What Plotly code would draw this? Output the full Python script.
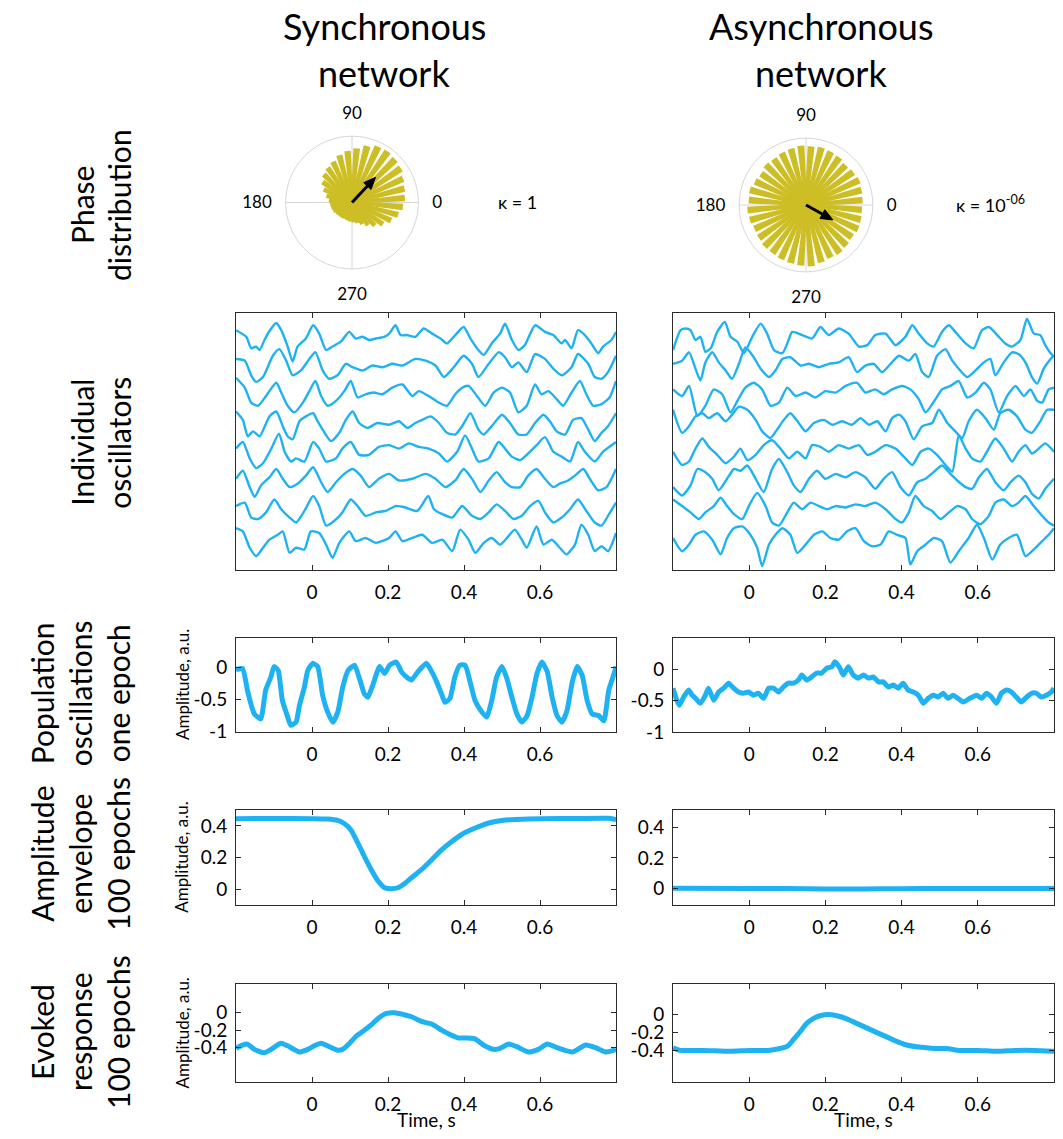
import math
import plotly.graph_objects as go

# ---------------------------------------------------------------- data
# phase histograms: 36 bins of 10 degrees, bar length relative to outer ring
phase_bins = list(range(5, 360, 10))
sync_phase_r = [0.78, 0.80, 0.83, 0.88, 0.90, 0.92, 0.91, 0.86, 0.80, 0.76,
                0.72, 0.66, 0.62, 0.58, 0.52, 0.45, 0.38, 0.33, 0.31, 0.30,
                0.29, 0.27, 0.26, 0.26, 0.25, 0.26, 0.27, 0.28, 0.30, 0.34,
                0.40, 0.47, 0.55, 0.63, 0.70, 0.75]
async_phase_r = [0.83, 0.84, 0.86, 0.84, 0.82, 0.85, 0.86, 0.87, 0.86, 0.87,
                 0.85, 0.84, 0.82, 0.83, 0.80, 0.82, 0.85, 0.84, 0.86, 0.85,
                 0.83, 0.84, 0.86, 0.86, 0.87, 0.88, 0.89, 0.90, 0.87, 0.85,
                 0.86, 0.84, 0.82, 0.84, 0.83, 0.82]
# mean phase vector: (angle in degrees, length)
sync_mean_vec = (47, 0.52)
async_mean_vec = (-29, 0.46)
kappa_text = ["κ = 1", "κ = 10<sup>-06</sup>"]

time_ticks = [0, 0.2, 0.4, 0.6]
time_labels = ["0", "0.2", "0.4", "0.6"]

# individual oscillators: (time s, amplitude) per oscillator, one oscillator per row
sync_osc = [
    [(-0.2, 0.23), (-0.173, 0), (-0.16, -0.40), (-0.147, -0.34), (-0.138, -0.46), (-0.125, -0.11), (-0.112, 0.20),
     (-0.094, 0.48), (-0.081, 0.23), (-0.064, -0.34), (-0.051, -0.86), (-0.038, -0.34), (-0.016, -0.06), (0.003, 0.40),
     (0.019, 0.11), (0.037, -0.46), (0.054, -0.34), (0.076, -0.17), (0.098, 0.17), (0.115, -0.06), (0.133, 0),
     (0.15, -0.11), (0.168, -0.06), (0.19, 0), (0.203, 0.11), (0.22, 0.40), (0.233, 0.06), (0.251, 0.06), (0.272, 0),
     (0.294, 0.29), (0.316, 0.11), (0.338, -0.06), (0.355, -0.23), (0.377, 0.06), (0.399, 0.34), (0.417, -0.06),
     (0.438, -0.46), (0.452, -0.63), (0.473, -0.23), (0.495, 0.11), (0.508, 0.46), (0.526, -0.11), (0.543, -0.46),
     (0.56, -0.29), (0.587, 0.40), (0.613, 0.17), (0.635, 0.06), (0.657, -0.23), (0.666, -0.11), (0.683, -0.40),
     (0.70, 0.23), (0.718, 0.06), (0.735, -0.23), (0.753, -0.57), (0.766, -0.34), (0.788, -0.11), (0.8, 0.17)],
    [(-0.2, 0.23), (-0.177, 0.17), (-0.16, -0.34), (-0.147, -0.57), (-0.129, -0.40), (-0.103, 0.34), (-0.086, 0.57),
     (-0.068, 0.17), (-0.051, -0.34), (-0.029, -0.17), (-0.007, 0.23), (0.009, 0.46), (0.028, -0.17), (0.045, -0.46),
     (0.067, -0.34), (0.089, 0.06), (0.107, -0.06), (0.133, -0.17), (0.159, 0), (0.185, -0.06), (0.211, 0.06),
     (0.238, 0), (0.272, 0.23), (0.299, 0.17), (0.325, 0), (0.347, -0.40), (0.373, -0.06), (0.399, 0.34),
     (0.421, 0.06), (0.438, -0.40), (0.465, 0.06), (0.491, 0.46), (0.508, 0.29), (0.526, -0.06), (0.543, 0.11),
     (0.565, -0.23), (0.587, 0.40), (0.613, 0.23), (0.635, -0.11), (0.657, -0.34), (0.683, -0.06), (0.70, 0.40),
     (0.727, 0.06), (0.744, -0.40), (0.762, -0.46), (0.779, -0.23), (0.8, 0.34)],
    [(-0.2, 0.57), (-0.177, 0.23), (-0.16, -0.29), (-0.142, -0.40), (-0.121, -0.06), (-0.094, 0.40), (-0.081, 0.06),
     (-0.064, -0.40), (-0.046, -0.63), (-0.024, -0.29), (-0.007, 0.11), (0.009, 0.46), (0.024, -0.06), (0.041, -0.40),
     (0.063, -0.23), (0.085, 0.11), (0.102, 0.46), (0.12, -0.11), (0.141, 0), (0.163, 0.06), (0.185, 0),
     (0.211, 0.23), (0.238, 0.34), (0.264, -0.06), (0.281, 0.11), (0.307, -0.06), (0.334, -0.29), (0.355, -0.40),
     (0.377, 0), (0.395, 0.23), (0.412, 0.29), (0.434, -0.06), (0.456, -0.40), (0.478, 0.06), (0.50, 0.23),
     (0.521, 0.06), (0.543, -0.63), (0.565, -0.40), (0.587, 0.34), (0.604, 0), (0.622, 0.11), (0.644, -0.17),
     (0.661, -0.40), (0.683, 0.06), (0.705, 0.46), (0.722, 0), (0.74, -0.40), (0.762, -0.34), (0.783, -0.11),
     (0.8, 0.46)],
    [(-0.2, 0.40), (-0.182, 0.11), (-0.169, -0.46), (-0.155, -0.29), (-0.138, -0.46), (-0.112, 0.23), (-0.094, 0.40),
     (-0.077, -0.11), (-0.064, -0.46), (-0.051, -0.57), (-0.033, 0.06), (-0.016, 0.23), (0.003, 0.34), (0.015, 0.06),
     (0.028, -0.23), (0.05, -0.63), (0.072, -0.34), (0.089, 0.11), (0.107, 0.40), (0.124, 0), (0.146, -0.17),
     (0.172, 0), (0.203, -0.06), (0.229, 0.06), (0.251, -0.17), (0.272, 0), (0.29, 0.11), (0.312, 0.23), (0.334, 0),
     (0.355, -0.34), (0.377, -0.40), (0.395, -0.11), (0.417, 0.34), (0.438, -0.23), (0.452, -0.40), (0.473, -0.11),
     (0.50, 0.29), (0.521, 0), (0.543, -0.40), (0.565, -0.40), (0.587, 0), (0.609, 0.29), (0.626, 0.06),
     (0.644, -0.29), (0.666, -0.40), (0.687, 0.11), (0.709, 0.17), (0.727, -0.23), (0.744, -0.63), (0.762, -0.34),
     (0.779, -0.11), (0.8, 0.34)],
    [(-0.2, 0.11), (-0.182, 0.34), (-0.164, -0.23), (-0.147, -0.57), (-0.129, -0.40), (-0.107, 0.11), (-0.087, 0.63),
     (-0.072, 0), (-0.055, -0.34), (-0.042, -0.23), (-0.02, -0.34), (0.003, 0.34), (0.019, 0.11), (0.037, -0.34),
     (0.063, -0.23), (0.08, 0.11), (0.102, 0.34), (0.124, -0.11), (0.15, -0.11), (0.176, 0.17), (0.203, 0.23),
     (0.229, 0.11), (0.255, 0.29), (0.281, 0.17), (0.307, 0.11), (0.334, -0.06), (0.355, -0.34), (0.382, 0),
     (0.403, 0.57), (0.421, 0.11), (0.438, -0.34), (0.465, -0.23), (0.491, 0.34), (0.508, 0.11), (0.526, -0.17),
     (0.548, -0.29), (0.569, -0.06), (0.591, 0.23), (0.613, 0.51), (0.635, 0), (0.657, -0.17), (0.679, -0.34),
     (0.70, 0.34), (0.718, 0), (0.744, -0.34), (0.766, 0), (0.8, 0.34)],
    [(-0.2, 0.06), (-0.182, 0.34), (-0.164, -0.23), (-0.151, -0.57), (-0.134, -0.17), (-0.112, 0.11), (-0.094, 0.40),
     (-0.077, 0.06), (-0.059, -0.23), (-0.038, -0.11), (-0.016, 0.17), (0.003, 0.46), (0.024, -0.06), (0.041, -0.40),
     (0.063, -0.06), (0.085, 0.23), (0.107, 0.40), (0.128, 0.17), (0.15, -0.23), (0.176, 0.06), (0.203, 0.23),
     (0.229, 0), (0.264, 0.06), (0.299, 0.23), (0.325, 0.06), (0.351, -0.23), (0.377, 0), (0.399, 0.40),
     (0.421, 0.06), (0.443, -0.40), (0.465, 0), (0.486, 0.29), (0.508, -0.06), (0.526, -0.23), (0.548, -0.23),
     (0.569, 0.17), (0.591, 0.40), (0.613, 0.06), (0.635, -0.23), (0.652, -0.11), (0.674, 0), (0.692, 0.17),
     (0.714, 0.40), (0.731, 0.06), (0.753, -0.34), (0.775, -0.23), (0.8, 0.40)],
    [(-0.2, 0.11), (-0.177, 0.23), (-0.16, -0.29), (-0.142, -0.34), (-0.121, -0.11), (-0.099, 0.34), (-0.081, 0),
     (-0.059, -0.29), (-0.042, -0.46), (-0.02, -0.06), (0.003, 0.46), (0.019, 0.11), (0.037, -0.57), (0.059, -0.40),
     (0.08, -0.11), (0.102, 0.34), (0.12, 0.11), (0.141, -0.23), (0.168, -0.11), (0.194, -0.06), (0.22, 0.11),
     (0.246, 0.06), (0.277, -0.06), (0.306, 0.46), (0.321, 0), (0.343, -0.17), (0.369, -0.29), (0.395, 0.11),
     (0.421, -0.23), (0.443, -0.34), (0.465, -0.11), (0.486, 0.17), (0.508, -0.06), (0.53, -0.34), (0.552, -0.23),
     (0.574, 0.11), (0.596, 0.29), (0.613, -0.11), (0.635, -0.46), (0.657, -0.29), (0.679, 0), (0.70, 0.34),
     (0.722, -0.06), (0.744, -0.46), (0.762, -0.57), (0.779, -0.23), (0.8, 0.23)],
    [(-0.2, 0.34), (-0.182, 0.23), (-0.164, -0.34), (-0.147, -0.63), (-0.129, -0.34), (-0.112, -0.06), (-0.09, 0.11),
     (-0.077, 0.23), (-0.059, -0.52), (-0.042, -0.34), (-0.02, -0.40), (-0.003, 0.23), (0.019, 0.17), (0.037, -0.23),
     (0.054, -0.69), (0.072, -0.17), (0.098, 0.23), (0.115, -0.11), (0.141, 0), (0.168, -0.17), (0.203, 0),
     (0.22, 0.23), (0.238, -0.11), (0.264, 0), (0.29, 0.11), (0.316, -0.17), (0.343, -0.06), (0.369, -0.46),
     (0.39, 0.29), (0.412, -0.06), (0.43, -0.52), (0.452, -0.17), (0.473, 0), (0.495, -0.23), (0.513, 0),
     (0.534, 0.29), (0.552, -0.06), (0.565, -0.34), (0.591, 0.40), (0.609, -0.23), (0.631, -0.06), (0.652, -0.34),
     (0.67, -0.57), (0.692, -0.23), (0.709, 0.46), (0.727, 0.11), (0.744, -0.46), (0.762, -0.29), (0.779, -0.46),
     (0.8, 0.17)],
]

async_osc = [
    [(-0.2, -0.46), (-0.18, 0.23), (-0.167, 0.29), (-0.154, 0.23), (-0.141, -0.11), (-0.128, 0), (-0.115, -0.52),
     (-0.101, -0.40), (-0.084, 0.17), (-0.064, 0.52), (-0.049, 0), (-0.031, -0.17), (-0.014, -0.57), (0.008, 0),
     (0.03, 0.46), (0.047, 0.11), (0.065, -0.46), (0.087, -0.57), (0.10, -0.23), (0.113, 0.17), (0.139, 0.06),
     (0.165, -0.06), (0.187, 0.34), (0.209, 0.06), (0.235, 0.29), (0.261, 0.11), (0.288, -0.34), (0.31, -0.29),
     (0.331, 0.06), (0.358, 0.11), (0.384, -0.29), (0.41, 0), (0.428, 0.40), (0.445, 0.11), (0.467, -0.23),
     (0.484, -0.34), (0.506, 0.17), (0.524, 0.40), (0.541, 0.17), (0.568, -0.23), (0.589, -0.40), (0.611, 0.23),
     (0.629, 0.34), (0.651, 0.06), (0.672, -0.23), (0.69, -0.34), (0.712, -0.11), (0.729, 0.63), (0.747, 0.11),
     (0.764, 0.06), (0.777, -0.29), (0.791, -0.57), (0.8, -0.69)],
    [(-0.2, 0.06), (-0.176, 0.17), (-0.158, 0.46), (-0.141, -0.11), (-0.128, -0.52), (-0.115, 0.11), (-0.097, 0.46),
     (-0.08, 0.11), (-0.062, -0.17), (-0.045, -0.46), (-0.027, 0.06), (-0.01, 0.63), (0.012, 0.29), (0.03, -0.11),
     (0.052, -0.40), (0.069, -0.17), (0.087, 0.23), (0.108, 0.29), (0.135, 0), (0.157, 0.06), (0.183, -0.06),
     (0.209, 0.06), (0.235, 0.11), (0.261, 0.29), (0.283, -0.23), (0.305, 0), (0.327, 0.06), (0.349, -0.23),
     (0.371, 0.06), (0.393, 0.34), (0.419, 0.17), (0.436, 0.40), (0.454, -0.23), (0.471, -0.40), (0.493, 0.34),
     (0.515, 0.57), (0.533, 0.17), (0.55, -0.11), (0.572, -0.40), (0.594, -0.17), (0.616, 0.11), (0.633, 0.23),
     (0.646, -0.34), (0.668, 0.11), (0.69, 0.46), (0.707, 0.40), (0.725, 0.11), (0.742, -0.40), (0.756, -0.63),
     (0.773, -0.11), (0.791, 0.23), (0.8, 0.34)],
    [(-0.2, 0.17), (-0.176, -0.06), (-0.158, 0.29), (-0.136, -0.75), (-0.115, -0.40), (-0.093, 0.17), (-0.071, 0),
     (-0.049, -0.63), (-0.031, -0.23), (-0.01, 0.23), (0.012, 0.40), (0.034, 0.17), (0.056, -0.40), (0.078, -0.29),
     (0.10, 0.23), (0.122, -0.06), (0.148, 0.06), (0.174, -0.11), (0.20, 0.11), (0.227, 0.06), (0.253, 0.29),
     (0.283, 0.40), (0.305, 0.06), (0.331, 0.17), (0.353, 0), (0.375, 0.17), (0.401, 0.29), (0.423, 0.17),
     (0.445, -0.17), (0.463, -0.63), (0.489, -0.17), (0.506, 0.17), (0.528, 0.29), (0.55, 0.46), (0.572, -0.11),
     (0.594, 0.06), (0.616, 0.40), (0.633, 0.17), (0.655, -0.63), (0.677, -0.06), (0.699, 0.29), (0.721, -0.06),
     (0.738, 0.17), (0.756, -0.23), (0.769, -0.29), (0.786, 0.17), (0.8, 0.23)],
    [(-0.2, 0.46), (-0.176, -0.34), (-0.158, -0.11), (-0.141, 0.23), (-0.123, 0.34), (-0.106, 0.17), (-0.084, 0.34),
     (-0.062, 0.06), (-0.045, 0.29), (-0.027, 0.57), (-0.005, 0.46), (0.017, 0.11), (0.034, -0.29), (0.056, -0.52),
     (0.073, -0.23), (0.091, 0.11), (0.108, 0.34), (0.13, 0), (0.148, -0.29), (0.17, 0), (0.196, 0.11),
     (0.218, -0.06), (0.244, 0.06), (0.27, -0.06), (0.292, 0.17), (0.314, -0.06), (0.336, 0.06), (0.358, -0.29),
     (0.375, 0.17), (0.393, 0.29), (0.41, 0.06), (0.432, -0.57), (0.454, -0.11), (0.48, 0), (0.498, 0.46),
     (0.52, 0), (0.541, -0.29), (0.559, -0.52), (0.576, 0.06), (0.598, 0.46), (0.62, 0.17), (0.642, -0.23),
     (0.659, 0.34), (0.681, 0.46), (0.703, 0.23), (0.725, -0.23), (0.742, -0.34), (0.764, 0.06), (0.782, 0.46),
     (0.8, 0.46)],
    [(-0.2, 0), (-0.176, -0.46), (-0.158, -0.34), (-0.141, 0.11), (-0.123, 0.46), (-0.106, 0.17), (-0.084, -0.11),
     (-0.062, -0.40), (-0.04, -0.17), (-0.023, 0.11), (-0.005, -0.29), (0.017, -0.11), (0.038, 0.23), (0.06, 0.40),
     (0.082, 0.11), (0.104, -0.23), (0.126, 0), (0.148, -0.23), (0.165, 0.23), (0.187, 0.17), (0.209, 0),
     (0.235, 0.23), (0.261, 0.11), (0.288, 0.23), (0.31, -0.11), (0.331, 0), (0.358, 0.23), (0.384, 0.11),
     (0.406, -0.17), (0.428, -0.46), (0.45, 0), (0.471, 0.11), (0.493, -0.11), (0.515, -0.46), (0.533, -0.69),
     (0.55, 0.57), (0.568, 0.11), (0.585, -0.23), (0.607, -0.34), (0.624, 0), (0.646, 0.46), (0.668, 0.11),
     (0.69, -0.34), (0.707, 0), (0.725, 0.23), (0.742, -0.06), (0.76, 0.11), (0.777, 0.29), (0.8, 0)],
    [(-0.2, -0.23), (-0.176, -0.52), (-0.154, -0.17), (-0.136, 0.40), (-0.115, 0.29), (-0.097, 0.06), (-0.08, -0.34),
     (-0.058, 0.06), (-0.04, 0.40), (-0.023, 0.34), (-0.005, 0.52), (0.017, 0.06), (0.038, -0.40), (0.06, 0.40),
     (0.078, 0.75), (0.10, 0.29), (0.117, -0.17), (0.135, -0.40), (0.157, 0.06), (0.178, 0.34), (0.20, 0.06),
     (0.227, 0.23), (0.253, 0.11), (0.279, 0.29), (0.305, 0.11), (0.331, -0.29), (0.353, 0.06), (0.375, 0.29),
     (0.397, -0.23), (0.419, -0.52), (0.441, -0.06), (0.463, 0.06), (0.484, 0.29), (0.506, 0.52), (0.528, 0.23),
     (0.546, 0), (0.568, -0.23), (0.585, -0.29), (0.603, 0.11), (0.624, 0.40), (0.646, -0.06), (0.668, -0.34),
     (0.686, -0.06), (0.707, 0.17), (0.725, -0.06), (0.742, -0.46), (0.76, -0.63), (0.777, -0.29), (0.8, 0.06)],
    [(-0.2, 0.34), (-0.176, 0.11), (-0.154, -0.11), (-0.132, -0.34), (-0.115, -0.11), (-0.093, 0.11), (-0.075, 0.40),
     (-0.058, 0.11), (-0.04, -0.17), (-0.018, -0.34), (-0.001, 0.11), (0.021, 0.57), (0.043, 0.11), (0.06, -0.46),
     (0.078, -0.57), (0.10, -0.11), (0.117, 0.23), (0.139, 0), (0.161, 0.23), (0.183, 0.11), (0.205, 0),
     (0.227, 0.11), (0.253, 0.06), (0.279, 0.17), (0.305, 0.11), (0.331, 0.23), (0.358, 0), (0.384, -0.34),
     (0.401, -0.46), (0.419, -0.11), (0.436, 0.46), (0.458, 0.11), (0.48, -0.06), (0.502, -0.34), (0.524, -0.11),
     (0.546, 0.11), (0.568, 0), (0.585, -0.34), (0.607, -0.52), (0.629, -0.23), (0.646, 0.23), (0.668, 0.34),
     (0.69, 0.11), (0.707, 0.23), (0.725, 0.46), (0.747, 0.11), (0.769, -0.23), (0.786, -0.46), (0.8, -0.57)],
    [(-0.2, 0), (-0.176, -0.46), (-0.158, -0.23), (-0.141, 0.11), (-0.119, 0.23), (-0.097, -0.06), (-0.075, -0.57),
     (-0.058, 0), (-0.04, 0.34), (-0.018, 0.40), (0.003, 0.11), (0.021, -0.34), (0.034, -0.98), (0.052, -0.23),
     (0.069, 0.11), (0.087, 0.34), (0.108, 0.11), (0.126, -0.52), (0.148, -0.23), (0.17, 0.11), (0.192, 0.23),
     (0.213, 0), (0.235, -0.06), (0.257, 0.23), (0.279, 0.34), (0.301, -0.11), (0.323, -0.29), (0.345, -0.23),
     (0.366, 0.23), (0.388, 0.11), (0.41, 0), (0.423, -0.92), (0.441, -0.46), (0.463, -0.23), (0.484, 0),
     (0.506, -0.11), (0.528, -0.86), (0.55, -0.46), (0.576, 0), (0.598, 0.46), (0.616, 0), (0.638, -0.75),
     (0.659, -0.23), (0.681, 0), (0.703, 0.11), (0.725, -0.63), (0.747, -0.40), (0.769, -0.11), (0.786, 0.11),
     (0.8, 0.34)],
]

# population signal, one epoch (time s, amplitude a.u.)
pop_sync = [(-0.2, -0.03), (-0.183, -0.01), (-0.17, -0.35), (-0.161, -0.56), (-0.152, -0.72), (-0.135, -0.80),
            (-0.122, -0.35), (-0.108, -0.14), (-0.1, 0.02), (-0.089, -0.04), (-0.078, -0.51), (-0.064, -0.77),
            (-0.056, -0.90), (-0.042, -0.85), (-0.033, -0.59), (-0.02, -0.30), (-0.011, -0.04), (0.002, 0.07),
            (0.015, 0.02), (0.028, -0.43), (0.041, -0.69), (0.055, -0.85), (0.068, -0.69), (0.081, -0.30),
            (0.095, -0.04), (0.112, 0.04), (0.125, -0.17), (0.138, -0.41), (0.147, -0.46), (0.16, -0.27),
            (0.178, 0.02), (0.191, -0.09), (0.204, 0.04), (0.222, 0.09), (0.235, -0.06), (0.248, -0.14),
            (0.262, -0.19), (0.279, -0.06), (0.301, 0.07), (0.315, -0.06), (0.328, -0.22), (0.341, -0.41),
            (0.35, -0.54), (0.363, -0.48), (0.376, -0.14), (0.389, 0.04), (0.403, 0.04), (0.416, -0.22),
            (0.429, -0.51), (0.447, -0.69), (0.46, -0.77), (0.473, -0.51), (0.486, -0.14), (0.5, 0.02),
            (0.513, -0.17), (0.526, -0.46), (0.539, -0.72), (0.552, -0.85), (0.566, -0.75), (0.579, -0.46),
            (0.592, -0.09), (0.605, 0.09), (0.619, -0.06), (0.632, -0.46), (0.645, -0.75), (0.658, -0.85),
            (0.671, -0.67), (0.685, -0.22), (0.698, 0.02), (0.711, -0.12), (0.724, -0.51), (0.737, -0.72),
            (0.755, -0.75), (0.768, -0.83), (0.781, -0.35), (0.795, -0.09), (0.8, 0.02)]
pop_async = [(-0.2, -0.30), (-0.19, -0.49), (-0.183, -0.57), (-0.172, -0.44), (-0.159, -0.33), (-0.15, -0.41),
             (-0.141, -0.46), (-0.128, -0.54), (-0.115, -0.41), (-0.107, -0.30), (-0.093, -0.49), (-0.08, -0.36),
             (-0.067, -0.30), (-0.054, -0.22), (-0.041, -0.30), (-0.028, -0.36), (-0.015, -0.38), (-0.002, -0.36),
             (0.011, -0.41), (0.024, -0.38), (0.038, -0.46), (0.051, -0.30), (0.064, -0.30), (0.077, -0.36),
             (0.09, -0.28), (0.103, -0.22), (0.116, -0.22), (0.129, -0.17), (0.138, -0.09), (0.151, -0.17),
             (0.164, -0.12), (0.177, -0.06), (0.19, -0.06), (0.204, 0.02), (0.217, 0.04), (0.225, 0.12),
             (0.238, 0.02), (0.247, -0.09), (0.26, 0.04), (0.273, -0.09), (0.286, -0.14), (0.30, -0.09),
             (0.313, -0.14), (0.326, -0.12), (0.339, -0.20), (0.352, -0.20), (0.365, -0.28), (0.378, -0.25),
             (0.391, -0.30), (0.404, -0.22), (0.417, -0.33), (0.431, -0.36), (0.444, -0.41), (0.457, -0.54),
             (0.47, -0.46), (0.483, -0.41), (0.496, -0.44), (0.509, -0.38), (0.522, -0.46), (0.535, -0.41),
             (0.548, -0.46), (0.562, -0.52), (0.579, -0.46), (0.597, -0.41), (0.61, -0.46), (0.623, -0.38),
             (0.636, -0.44), (0.649, -0.54), (0.662, -0.38), (0.675, -0.33), (0.688, -0.36), (0.701, -0.44),
             (0.714, -0.52), (0.728, -0.44), (0.741, -0.38), (0.754, -0.38), (0.767, -0.44), (0.78, -0.41),
             (0.793, -0.36), (0.8, -0.30)]

# amplitude envelope averaged over 100 epochs
env_sync = [(-0.2, 0.446), (-0.1, 0.447), (0.0, 0.446), (0.04, 0.444), (0.068, 0.435), (0.085, 0.415),
            (0.103, 0.373), (0.121, 0.29), (0.138, 0.207), (0.156, 0.124), (0.174, 0.052), (0.191, 0.01),
            (0.209, 0.004), (0.226, 0.01), (0.244, 0.037), (0.262, 0.073), (0.288, 0.124), (0.315, 0.187),
            (0.341, 0.249), (0.367, 0.30), (0.394, 0.346), (0.42, 0.377), (0.447, 0.404), (0.473, 0.423),
            (0.5, 0.435), (0.535, 0.441), (0.605, 0.446), (0.7, 0.447), (0.78, 0.448), (0.8, 0.441)]
env_async = [(-0.2, 0.003), (0.0, 0.002), (0.1, 0.001), (0.2, -0.002), (0.3, -0.002), (0.4, 0.0),
             (0.5, 0.002), (0.6, 0.001), (0.7, 0.001), (0.8, 0.002)]

# evoked response averaged over 100 epochs
evoked_sync = [(-0.2, -0.41), (-0.188, -0.38), (-0.17, -0.36), (-0.152, -0.42), (-0.126, -0.46), (-0.104, -0.41),
               (-0.082, -0.35), (-0.064, -0.38), (-0.033, -0.45), (-0.011, -0.42), (0.006, -0.38), (0.024, -0.35),
               (0.041, -0.38), (0.068, -0.43), (0.081, -0.42), (0.099, -0.35), (0.116, -0.27), (0.138, -0.20),
               (0.156, -0.14), (0.174, -0.065), (0.196, -0.008), (0.218, 0.0), (0.24, -0.02), (0.262, -0.046),
               (0.288, -0.10), (0.315, -0.13), (0.341, -0.20), (0.363, -0.25), (0.385, -0.29), (0.411, -0.29),
               (0.429, -0.30), (0.451, -0.37), (0.478, -0.42), (0.495, -0.41), (0.517, -0.36), (0.539, -0.39),
               (0.57, -0.45), (0.596, -0.42), (0.619, -0.36), (0.645, -0.40), (0.685, -0.45), (0.72, -0.37),
               (0.746, -0.40), (0.773, -0.45), (0.795, -0.43), (0.8, -0.42)]
evoked_async = [(-0.2, -0.37), (-0.181, -0.40), (-0.12, -0.40), (-0.05, -0.41), (0.0, -0.40), (0.05, -0.40),
                (0.09, -0.37), (0.103, -0.345), (0.116, -0.28), (0.134, -0.19), (0.151, -0.10), (0.169, -0.044),
                (0.186, -0.015), (0.208, 0.0), (0.23, -0.015), (0.256, -0.05), (0.282, -0.10), (0.308, -0.15),
                (0.334, -0.20), (0.361, -0.25), (0.387, -0.30), (0.413, -0.34), (0.439, -0.36), (0.465, -0.37),
                (0.492, -0.38), (0.518, -0.38), (0.553, -0.40), (0.6, -0.40), (0.65, -0.41), (0.7, -0.40),
                (0.75, -0.40), (0.8, -0.41)]

column_titles = [("Synchronous", "network"), ("Asynchronous", "network")]
row_titles = [("Phase", "distribution"),
              ("Individual", "oscillators"),
              ("Population", "oscillations", "one epoch"),
              ("Amplitude", "envelope", "100 epochs"),
              ("Evoked", "response", "100 epochs")]
amp_label = "Amplitude, a.u."
time_label = "Time, s"

# ---------------------------------------------------------------- styling
W, H = 1063, 1139
FONT = "Lato"
BLUE = "rgb(30,178,242)"
OLIVE = "rgb(205,190,38)"
FRAME = "#2b2b2b"
GRID = "#d6d6d6"


def fx(p):
    return p / W


def fy(p):
    return 1 - p / H


def unzip(pairs):
    return [p[0] for p in pairs], [p[1] for p in pairs]


def label(text, x, y, size, angle=0):
    return dict(text=text, x=fx(x), y=fy(y), xref="paper", yref="paper", showarrow=False,
                xanchor="center", yanchor="middle", textangle=angle,
                font=dict(family=FONT, size=size, color="black"))


fig = go.Figure()

# ---------------------------------------------------------------- rose plots
polar_boxes = [((285, 419), (137.5, 271.5)), ((738.5, 873.5), (139.5, 274.5))]
for i, (radii, vec) in enumerate([(sync_phase_r, sync_mean_vec), (async_phase_r, async_mean_vec)]):
    sub = "polar" if i == 0 else "polar2"
    fig.add_trace(go.Barpolar(r=radii, theta=phase_bins, width=4.3, subplot=sub,
                              marker=dict(color=OLIVE, line=dict(color=OLIVE, width=2.6)),
                              showlegend=False, hoverinfo="skip"))
    ang, length = vec
    head_len, head_half = 0.18, 0.075
    a = math.radians(ang)
    ux, uy = math.cos(a), math.sin(a)
    fig.add_trace(go.Scatterpolar(r=[0, length - head_len * 0.8], theta=[ang, ang], mode="lines",
                                  line=dict(color="black", width=3), subplot=sub,
                                  showlegend=False, hoverinfo="skip"))
    tip = (length * ux, length * uy)
    base = ((length - head_len) * ux, (length - head_len) * uy)
    pts = [tip,
           (base[0] - head_half * uy, base[1] + head_half * ux),
           (base[0] + head_half * uy, base[1] - head_half * ux),
           tip]
    fig.add_trace(go.Scatterpolar(r=[math.hypot(px_, py_) for px_, py_ in pts],
                                  theta=[math.degrees(math.atan2(py_, px_)) for px_, py_ in pts],
                                  mode="lines", fill="toself", fillcolor="black",
                                  line=dict(color="black", width=1), subplot=sub,
                                  showlegend=False, hoverinfo="skip"))

polar_style = dict(
    bgcolor="white",
    radialaxis=dict(visible=False, range=[0, 1]),
    angularaxis=dict(direction="counterclockwise", rotation=0,
                     tickvals=[0, 90, 180, 270], ticktext=["0", "90", "180", "270"],
                     showline=True, linecolor=GRID, linewidth=1,
                     showgrid=True, gridcolor=GRID, gridwidth=1,
                     ticks="outside", ticklen=10, tickcolor="rgba(0,0,0,0)",
                     tickfont=dict(family=FONT, size=17, color="black")),
)
for i, ((x0, x1), (y0, y1)) in enumerate(polar_boxes):
    key = "polar" if i == 0 else "polar2"
    fig.update_layout({key: dict(domain=dict(x=[fx(x0), fx(x1)], y=[fy(y1), fy(y0)]), **polar_style)})

# ---------------------------------------------------------------- cartesian panels
col_x = [(236, 616), (673, 1054)]
rows_y = {"osc": (316, 576), "pop": (644, 739.5), "env": (818, 914), "evk": (994, 1093)}

axis_base = dict(showline=True, linecolor=FRAME, linewidth=1, mirror="allticks",
                 ticks="inside", ticklen=5, tickcolor=FRAME, tickwidth=1,
                 showgrid=False, zeroline=False,
                 tickfont=dict(family=FONT, size=19, color="black"))

panels = [
    # (row, col, y range, y ticks)
    ("osc", 0, [-8.13, 0.83], None),
    ("osc", 1, [-8.13, 0.83], None),
    ("pop", 0, [-1.01, 0.47], [-1, -0.5, 0]),
    ("pop", 1, [-1.0, 0.5], [-1, -0.5, 0]),
    ("env", 0, [-0.1, 0.5], [0, 0.2, 0.4]),
    ("env", 1, [-0.107, 0.51], [0, 0.2, 0.4]),
    ("evk", 0, [-0.8, 0.325], [-0.4, -0.2, 0]),
    ("evk", 1, [-0.756, 0.333], [-0.4, -0.2, 0]),
]
series = {
    ("pop", 0): pop_sync, ("pop", 1): pop_async,
    ("env", 0): env_sync, ("env", 1): env_async,
    ("evk", 0): evoked_sync, ("evk", 1): evoked_async,
}
tick_text = {-1: "-1", -0.5: "-0.5", 0: "0", 0.2: "0.2", 0.4: "0.4", -0.2: "-0.2", -0.4: "-0.4"}

for n, (row, col, yr, yt) in enumerate(panels, start=1):
    xa = "xaxis" if n == 1 else f"xaxis{n}"
    ya = "yaxis" if n == 1 else f"yaxis{n}"
    xref = "x" if n == 1 else f"x{n}"
    yref = "y" if n == 1 else f"y{n}"
    x0, x1 = col_x[col]
    y0, y1 = rows_y[row]
    fig.update_layout({
        xa: dict(axis_base, domain=[fx(x0), fx(x1)], anchor=yref, range=[-0.2, 0.8],
                 tickvals=time_ticks, ticktext=time_labels, ticklabelstandoff=5),
        ya: dict(axis_base, domain=[fy(y1), fy(y0)], anchor=xref, range=yr,
                 **(dict(tickvals=yt, ticktext=[tick_text[v] for v in yt], ticklabelstandoff=4)
                    if yt else dict(ticks="", showticklabels=False, mirror=True))),
    })
    if row == "osc":
        traces = sync_osc if col == 0 else async_osc
        for k, tr in enumerate(traces):
            t, v = unzip(tr)
            fig.add_trace(go.Scatter(x=t, y=[val - k for val in v], mode="lines",
                                     line=dict(color=BLUE, width=2.4, shape="spline", smoothing=0.6),
                                     xaxis=xref, yaxis=yref, showlegend=False, hoverinfo="skip"))
    else:
        t, v = unzip(series[(row, col)])
        fig.add_trace(go.Scatter(x=t, y=v, mode="lines",
                                 line=dict(color=BLUE, width=5, shape="spline", smoothing=0.5),
                                 xaxis=xref, yaxis=yref, showlegend=False, hoverinfo="skip"))

# ---------------------------------------------------------------- text
ann = []
# column headings
for (l1, l2), cx in zip(column_titles, [384, 821]):
    ann.append(label(l1, cx, 26, 36))
    ann.append(label(l2, cx, 74, 36))

# row headings, rotated
row_centres = [207, 447, 700, 862, 1042]
for lines, cy in zip(row_titles, row_centres):
    xs = [82, 119] if len(lines) == 2 else [42, 80, 118]
    for line, cx in zip(lines, xs):
        ann.append(label(line, cx, cy, 30, -90))

# kappa values next to the rose plots
for txt, (kx, ky) in zip(kappa_text, [(517, 204), (990, 206)]):
    ann.append(label(txt, kx, ky, 18))

# y-axis labels of the left column
for row in ["pop", "env", "evk"]:
    y0, y1 = rows_y[row]
    ann.append(label(amp_label, 182, (y0 + y1) / 2, 17, -90))

# time axis labels under the bottom row
for (x0, x1) in col_x:
    ann.append(label(time_label, (x0 + x1) / 2, 1130, 19))

fig.update_layout(width=W, height=H, margin=dict(l=0, r=0, t=0, b=0),
                  paper_bgcolor="white", plot_bgcolor="white", showlegend=False,
                  annotations=ann)

fig.write_html("out.html")
